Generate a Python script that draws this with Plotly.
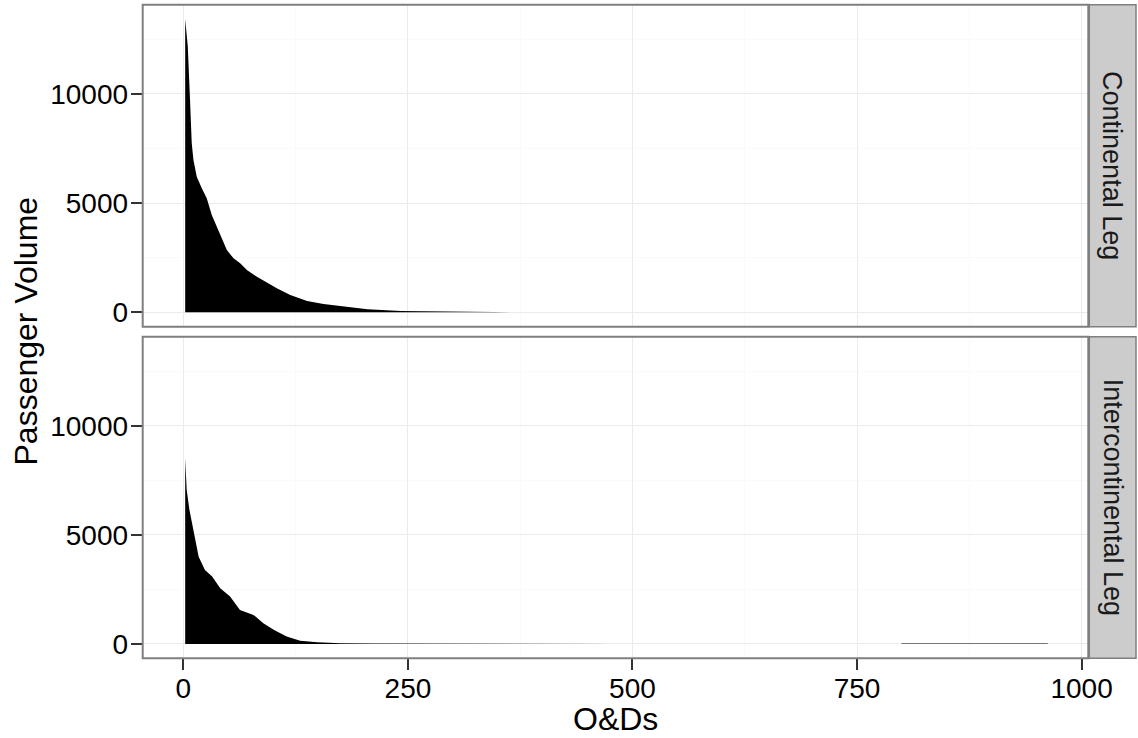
import plotly.graph_objects as go

# ---- data ----
panels = ["Continental Leg", "Intercontinental Leg"]

cont_x = [2, 3, 4.9, 7.4, 9.3, 11.2, 14.9, 20.5, 26, 31.6, 37.2, 42.8, 48.4, 55.8, 63.2,
          70.7, 81.8, 93, 104, 119, 137.7, 156, 175, 205, 242, 298, 346, 400, 470, 500]
cont_y = [13450, 12900, 12170, 9725, 7740, 6980, 6210, 5680, 5220, 4460, 3920, 3310, 2850,
          2470, 2245, 1940, 1630, 1360, 1100, 790, 520, 380, 290, 137, 60, 20, 8, 4, 2, 0]

inter_x = [2, 3.7, 6.7, 11, 17, 24, 32, 41, 52, 63, 78, 89, 101, 115, 130, 149, 175, 210,
           260, 350, 470, 480, 799, 800, 962, 963]
inter_y = [8520, 7060, 6150, 5230, 4000, 3390, 3090, 2550, 2170, 1560, 1330, 950, 640, 335,
           150, 78, 30, 14, 8, 6, 5, 0, 0, 18, 18, 0]

x_ticks = [0, 250, 500, 750, 1000]
y_ticks = [0, 5000, 10000]
y_tick_labels = ["0", "5000", "10000"]

x_title = "O&Ds"
y_title = "Passenger Volume"

# ---- layout geometry (pixels of a 1138 x 738 canvas) ----
W, H = 1138, 738
px_left, px_right = 142.7, 1088.3
top_px = (4.7, 326.7)
bot_px = (336.7, 658.3)
strip_px = (1089.3, 1136.0)

def ydom(p):
    return [1 - p[1] / H, 1 - p[0] / H]

FONT = "Liberation Sans, Arial, Helvetica, sans-serif"
GRID = "#EBEBEB"
MINOR = "#FAFAFA"
BORDER = "#7F7F7F"
TICK_SIZE = 28

fig = go.Figure()
fig.add_trace(go.Scatter(x=cont_x, y=cont_y, mode="lines", fill="tozeroy",
                         fillcolor="black", line=dict(width=0, color="black"),
                         xaxis="x", yaxis="y", showlegend=False, hoverinfo="skip"))
fig.add_trace(go.Scatter(x=inter_x, y=inter_y, mode="lines", fill="tozeroy",
                         fillcolor="black", line=dict(width=0, color="black"),
                         xaxis="x2", yaxis="y2", showlegend=False, hoverinfo="skip"))

xrange = [-45.3, 1007.5]
yrange = [-660, 14090]
xdom = [px_left / W, px_right / W]

common_x = dict(range=xrange, domain=xdom, tickmode="array", tickvals=x_ticks,
                showgrid=True, gridcolor=GRID, gridwidth=1.1, zeroline=False,
                showline=False, automargin=False,
                minor=dict(showgrid=True, gridcolor=MINOR, gridwidth=1,
                           tickmode="array", tickvals=[125, 375, 625, 875]))
common_y = dict(range=yrange, tickmode="array", tickvals=y_ticks, ticktext=y_tick_labels,
                showgrid=True, gridcolor=GRID, gridwidth=1.1, zeroline=False,
                showline=False, automargin=False,
                ticks="outside", ticklen=11, tickwidth=2, tickcolor="#333333",
                ticklabelstandoff=-3,
                tickfont=dict(family=FONT, size=TICK_SIZE, color="black"),
                minor=dict(showgrid=True, gridcolor=MINOR, gridwidth=1,
                           tickmode="array", tickvals=[2500, 7500, 12500]))

fig.update_layout(
    width=W, height=H, margin=dict(l=0, r=0, t=0, b=0),
    paper_bgcolor="white", plot_bgcolor="white",
    xaxis=dict(**common_x, anchor="y", showticklabels=False, ticks=""),
    yaxis=dict(**common_y, domain=ydom(top_px), anchor="x"),
    xaxis2=dict(**common_x, anchor="y2", ticks="outside", ticklen=11, tickwidth=2,
                tickcolor="#333333", ticklabelstandoff=-6,
                tickfont=dict(family=FONT, size=TICK_SIZE, color="black")),
    yaxis2=dict(**common_y, domain=ydom(bot_px), anchor="x2"),
    font=dict(family=FONT, color="black"),
)

shapes = []
annotations = []
for i, (name, yref) in enumerate(zip(panels, ["y domain", "y2 domain"])):
    xref = "x domain" if i == 0 else "x2 domain"
    shapes.append(dict(type="rect", xref=xref, yref=yref, x0=0, x1=1, y0=0, y1=1,
                       line=dict(color=BORDER, width=2), fillcolor="rgba(0,0,0,0)",
                       layer="above"))
    shapes.append(dict(type="rect", xref="paper", yref=yref,
                       x0=strip_px[0] / W, x1=strip_px[1] / W, y0=0, y1=1,
                       line=dict(color=BORDER, width=1.5), fillcolor="#CCCCCC",
                       layer="above"))
    annotations.append(dict(text=name, xref="paper", yref=yref,
                            x=(strip_px[0] + strip_px[1]) / 2 / W, y=0.5,
                            showarrow=False, textangle=90,
                            font=dict(family=FONT, size=27, color="#1A1A1A"),
                            xanchor="center", yanchor="middle"))

annotations.append(dict(text=x_title, xref="paper", yref="paper",
                        x=(px_left + px_right) / 2 / W, y=1 - 719 / H,
                        showarrow=False, font=dict(family=FONT, size=32, color="black"),
                        xanchor="center", yanchor="middle"))
annotations.append(dict(text=y_title, xref="paper", yref="paper",
                        x=25 / W, y=1 - (top_px[0] + bot_px[1]) / 2 / H,
                        showarrow=False, textangle=-90,
                        font=dict(family=FONT, size=32, color="black"),
                        xanchor="center", yanchor="middle"))

fig.update_layout(shapes=shapes, annotations=annotations)
fig.write_html("out.html", config={"displayModeBar": False},
               post_script="document.body.style.margin='0px';document.body.style.padding='0px';")
